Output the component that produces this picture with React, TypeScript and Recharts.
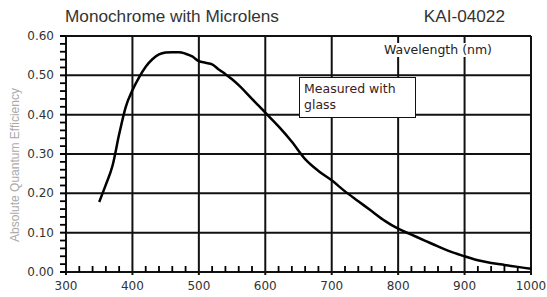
import React from 'react';
import { LineChart, Line, XAxis, YAxis, ReferenceLine } from 'recharts';

// Absolute QE, monochrome with microlens (measured with glass)
const wavelengths = [
  350, 360, 370, 380, 390, 400, 410, 420, 430, 440, 450, 460, 470, 480, 490, 500,
  510, 520, 530, 540, 550, 560, 570, 580, 590, 600, 620, 640, 660, 680, 700, 720,
  740, 760, 780, 800, 820, 840, 860, 880, 900, 920, 940, 960, 980, 1000,
];
const qeValues = [
  0.178, 0.222, 0.27, 0.35, 0.42, 0.462, 0.495, 0.522, 0.541, 0.553, 0.558, 0.559, 0.559, 0.555, 0.548, 0.536,
  0.532, 0.528, 0.515, 0.503, 0.49, 0.475, 0.458, 0.44, 0.423, 0.405, 0.37, 0.331, 0.287, 0.257, 0.233, 0.205,
  0.18, 0.155, 0.13, 0.11, 0.095, 0.08, 0.065, 0.051, 0.04, 0.03, 0.023, 0.018, 0.013, 0.008,
];

const xMajor = [300, 400, 500, 600, 700, 800, 900, 1000];
const xTicks = [
  300, 320, 340, 360, 380, 400, 420, 440, 460, 480, 500, 520, 540, 560, 580, 600, 620, 640, 660, 680,
  700, 720, 740, 760, 780, 800, 820, 840, 860, 880, 900, 920, 940, 960, 980, 1000,
];
const yMajor = [0, 0.1, 0.2, 0.3, 0.4, 0.5, 0.6];
const yTicks = [
  0, 0.02, 0.04, 0.06, 0.08, 0.1, 0.12, 0.14, 0.16, 0.18, 0.2, 0.22, 0.24, 0.26, 0.28, 0.3,
  0.32, 0.34, 0.36, 0.38, 0.4, 0.42, 0.44, 0.46, 0.48, 0.5, 0.52, 0.54, 0.56, 0.58, 0.6,
];

const data = wavelengths.map((w, i) => ({ wl: w, qe: qeValues[i] }));

const tickFont = 'DejaVu Sans, sans-serif';
const isMajorX = (v: number) => xMajor.includes(v);
const isMajorY = (v: number) => yMajor.some((m) => Math.abs(m - v) < 1e-6);

const XTick = ({ x, y, payload }: any) => {
  const v = payload.value;
  const major = isMajorX(v);
  return (
    <g>
      {major ? (
        <line x1={x} x2={x} y1={y} y2={y + 3} stroke="#111" strokeWidth={2} />
      ) : (
        <line x1={x} x2={x} y1={y - 6} y2={y} stroke="#000" strokeWidth={1.8} />
      )}
      {major && (
        <text x={x} y={y + 18} textAnchor="middle" fontSize={12} fontFamily={tickFont} fill="#333">
          {v}
        </text>
      )}
    </g>
  );
};

const YTick = ({ x, y, payload }: any) => {
  const v = payload.value;
  const major = isMajorY(v);
  return (
    <g>
      <line x1={x - 6} x2={x} y1={y} y2={y} stroke="#000" strokeWidth={major ? 2 : 1.8} />
      {major && (
        <text x={x - 12} y={y + 4} textAnchor="end" fontSize={12} fontFamily={tickFont} fill="#333">
          {v.toFixed(2)}
        </text>
      )}
    </g>
  );
};

export default function App() {
  return (
    <div style={{ position: 'absolute', left: 0, top: 0, width: 547, height: 297, background: '#fff' }}>
      <div style={{ position: 'absolute', left: 65, top: 6, fontFamily: 'Liberation Sans, Arial, sans-serif', fontSize: 17.2, color: '#333' }}>
        Monochrome with Microlens
      </div>
      <div style={{ position: 'absolute', right: 42, top: 6, fontFamily: 'Liberation Sans, Arial, sans-serif', fontSize: 17.2, color: '#333' }}>
        KAI-04022
      </div>
      <div
        style={{
          position: 'absolute', left: 15, top: 165, transform: 'translate(-50%, -50%) rotate(-90deg)',
          whiteSpace: 'nowrap', fontFamily: 'Liberation Sans, Arial, sans-serif', fontSize: 12, color: '#aaa',
        }}
      >
        Absolute Quantum Efficiency
      </div>
      <LineChart width={547} height={297} data={data} margin={{ top: 36, right: 16, left: 0, bottom: 0 }}>
        <XAxis
          dataKey="wl" type="number" domain={[300, 1000]} ticks={xTicks} interval={0}
          axisLine={false} tickLine={false} tickSize={0} tickMargin={0} height={25} tick={<XTick />}
        />
        <YAxis
          type="number" domain={[0, 0.6]} ticks={yTicks} interval={0}
          axisLine={false} tickLine={false} tickSize={0} tickMargin={0} width={66} tick={<YTick />}
        />
        {xMajor.map((v) => (
          <ReferenceLine key={'x' + v} x={v} stroke="#111" strokeWidth={2} />
        ))}
        {yMajor.map((v) => (
          <ReferenceLine key={'y' + v} y={v} stroke="#111" strokeWidth={2} />
        ))}
        <Line type="monotone" dataKey="qe" stroke="#000" strokeWidth={2.5} dot={false} isAnimationActive={false} />
      </LineChart>
      <div
        style={{
          position: 'absolute', left: 380, top: 43, width: 116, height: 14, background: '#fff',
          fontFamily: tickFont, fontSize: 12.5, color: '#222', textAlign: 'center', lineHeight: '14px',
        }}
      >
        Wavelength (nm)
      </div>
      <div
        style={{
          position: 'absolute', left: 299, top: 77, width: 117, height: 41, boxSizing: 'border-box',
          border: '1px solid #111', background: '#fff', padding: '3px 0 0 4px',
          fontFamily: tickFont, fontSize: 12.5, color: '#3a2020', lineHeight: '16px',
        }}
      >
        Measured with
        <br />
        glass
      </div>
    </div>
  );
}
